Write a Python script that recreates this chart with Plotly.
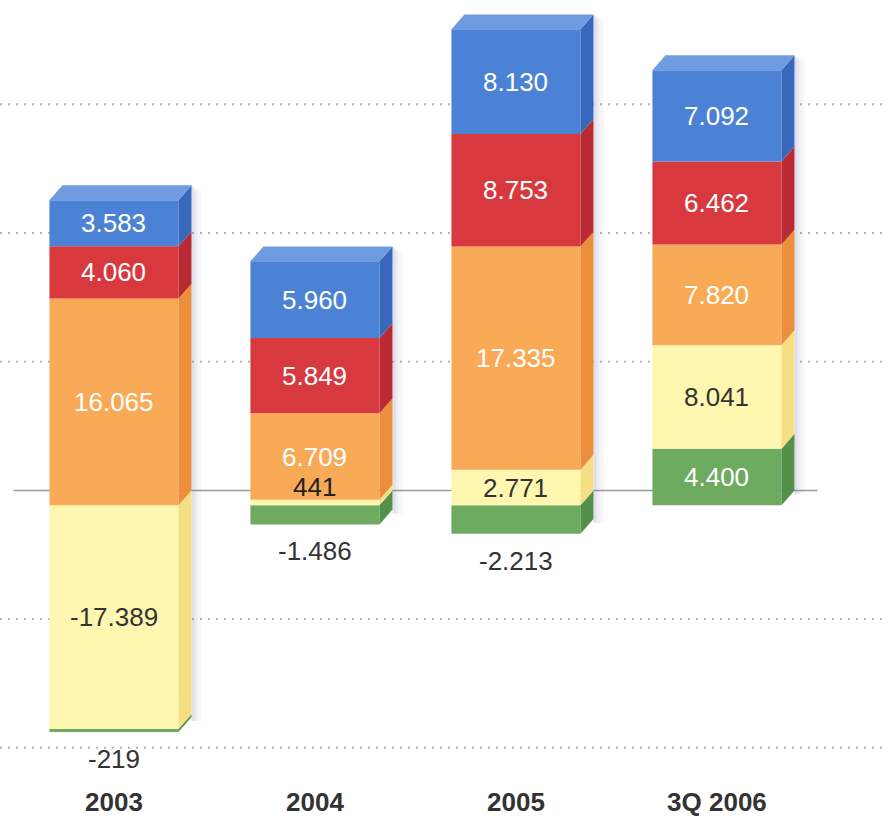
import plotly.graph_objects as go

# ---- data ----
categories = ["2003", "2004", "2005", "3Q 2006"]
green = [-219, -1486, -2213, 4400]
yellow = [-17389, 441, 2771, 8041]
orange = [16065, 6709, 17335, 7820]
red = [4060, 5849, 8753, 6462]
blue = [3583, 5960, 8130, 7092]
grid_levels = [-20000, -10000, 10000, 20000, 30000]

series = [
    ("green", green, "#6eaa5f", "#55904a", "#8cc07c", "white"),
    ("yellow", yellow, "#fff6b0", "#f6de84", "#fffad0", "#333333"),
    ("orange", orange, "#f9aa56", "#ec8f3d", "#fcc482", "white"),
    ("red", red, "#d7393f", "#b92a33", "#e36066", "white"),
    ("blue", blue, "#4c82d5", "#3868bb", "#6f9be0", "white"),
]
pos_order = ["green", "yellow", "orange", "red", "blue"]
neg_order = ["yellow", "green", "orange", "red", "blue"]

# ---- geometry / style ----
W, H = 888, 817
MB = 40
plot_h = H - MB
y_top, y_bot = 39270, -20800
upp = (y_top - y_bot) / plot_h          # data units per pixel
x_rng = [-0.567, 3.851]
xpp = (x_rng[1] - x_rng[0]) / W          # x units per pixel
BW = 0.642
DX = 13 * xpp
DY = 15 * upp
FONT = "Liberation Sans, Arial"

xs = list(range(len(categories)))
sdict = {s[0]: s for s in series}

bases = {name: [0] * len(xs) for name in sdict}
pos_b = [0] * len(xs)
neg_b = [0] * len(xs)
for name in pos_order:
    vals = sdict[name][1]
    for i, v in enumerate(vals):
        if v >= 0:
            bases[name][i] = pos_b[i]
            pos_b[i] += v
for name in neg_order:
    vals = sdict[name][1]
    for i, v in enumerate(vals):
        if v < 0:
            bases[name][i] = neg_b[i]
            neg_b[i] += v


def fmt(v):
    return f"{v:,}".replace(",", ".")


fig = go.Figure()

# soft shadows to the right of each bar
for i in xs:
    xr = xs[i] + BW / 2 + DX
    top = pos_b[i] + DY
    bot = neg_b[i] + DY
    for k, op in ((10, 0.06), (6, 0.08), (3, 0.10)):
        fig.add_trace(go.Scatter(
            x=[xr, xr + k * xpp, xr + k * xpp, xr, xr],
            y=[bot - 4 * upp, bot - 4 * upp, top - 6 * upp, top, bot - 4 * upp],
            fill="toself", fillcolor=f"rgba(120,120,170,{op})", mode="lines",
            line=dict(width=0), hoverinfo="skip", showlegend=False))

# front faces
for name, vals, c, cs, ct, tc in series:
    fig.add_trace(go.Bar(
        x=xs, y=vals, base=bases[name], width=BW,
        marker=dict(color=c, line=dict(width=0)),
        hoverinfo="skip", showlegend=False))

# side faces
for name, vals, c, cs, ct, tc in series:
    for i, v in enumerate(vals):
        b = bases[name][i]
        xr = xs[i] + BW / 2
        fig.add_trace(go.Scatter(
            x=[xr, xr + DX, xr + DX, xr, xr],
            y=[b, b + DY, b + v + DY, b + v, b],
            fill="toself", fillcolor=cs, mode="lines",
            line=dict(width=0, color=cs), hoverinfo="skip", showlegend=False))

# top faces (topmost positive segment)
for i in xs:
    top_name = None
    for name in pos_order:
        if sdict[name][1][i] > 0:
            top_name = name
    ct = sdict[top_name][4]
    top = pos_b[i]
    xl, xr = xs[i] - BW / 2, xs[i] + BW / 2
    fig.add_trace(go.Scatter(
        x=[xl, xl + DX, xr + DX, xr, xl],
        y=[top, top + DY, top + DY, top, top],
        fill="toself", fillcolor=ct, mode="lines",
        line=dict(width=0, color=ct), hoverinfo="skip", showlegend=False))

# labels
annotations = []
for name, vals, c, cs, ct, tc in series:
    for i, v in enumerate(vals):
        b = bases[name][i]
        h_px = abs(v) / upp
        if h_px >= 30:
            annotations.append(dict(x=xs[i], y=b + v / 2, text=fmt(v), showarrow=False,
                                    font=dict(color=tc, size=26, family=FONT)))
        elif v >= 0:
            annotations.append(dict(x=xs[i], y=b + v, yanchor="bottom", yshift=-4, text=fmt(v),
                                    showarrow=False,
                                    font=dict(color="#222222", size=26, family=FONT)))
        else:
            annotations.append(dict(x=xs[i], y=b + v, yanchor="top", yshift=-10, text=fmt(v),
                                    showarrow=False,
                                    font=dict(color="#333333", size=26, family=FONT)))

shapes = []
for g in grid_levels:
    shapes.append(dict(type="line", xref="paper", x0=0, x1=1, yref="y", y0=g + DY, y1=g + DY,
                       line=dict(color="#b4b4b4", width=2, dash="2px,6px"), layer="below"))
shapes.append(dict(type="line", xref="x", x0=-0.5, x1=3.5, yref="y", y0=DY, y1=DY,
                   line=dict(color="#9a9a9a", width=1.5), layer="below"))

fig.update_layout(
    width=W, height=H,
    margin=dict(l=0, r=0, t=0, b=MB),
    paper_bgcolor="white", plot_bgcolor="white",
    barmode="overlay",
    showlegend=False,
    shapes=shapes,
    annotations=annotations,
    xaxis=dict(range=x_rng, tickvals=xs, ticktext=[f"<b>{c}</b>" for c in categories],
               showgrid=False, zeroline=False, showline=False, ticks="",
               tickfont=dict(size=26, color="#333333", family=FONT),
               ticklabelstandoff=11),
    yaxis=dict(range=[y_bot, y_top], showgrid=False, zeroline=False, showticklabels=False,
               showline=False, ticks=""),
)

fig.write_html("out.html")
